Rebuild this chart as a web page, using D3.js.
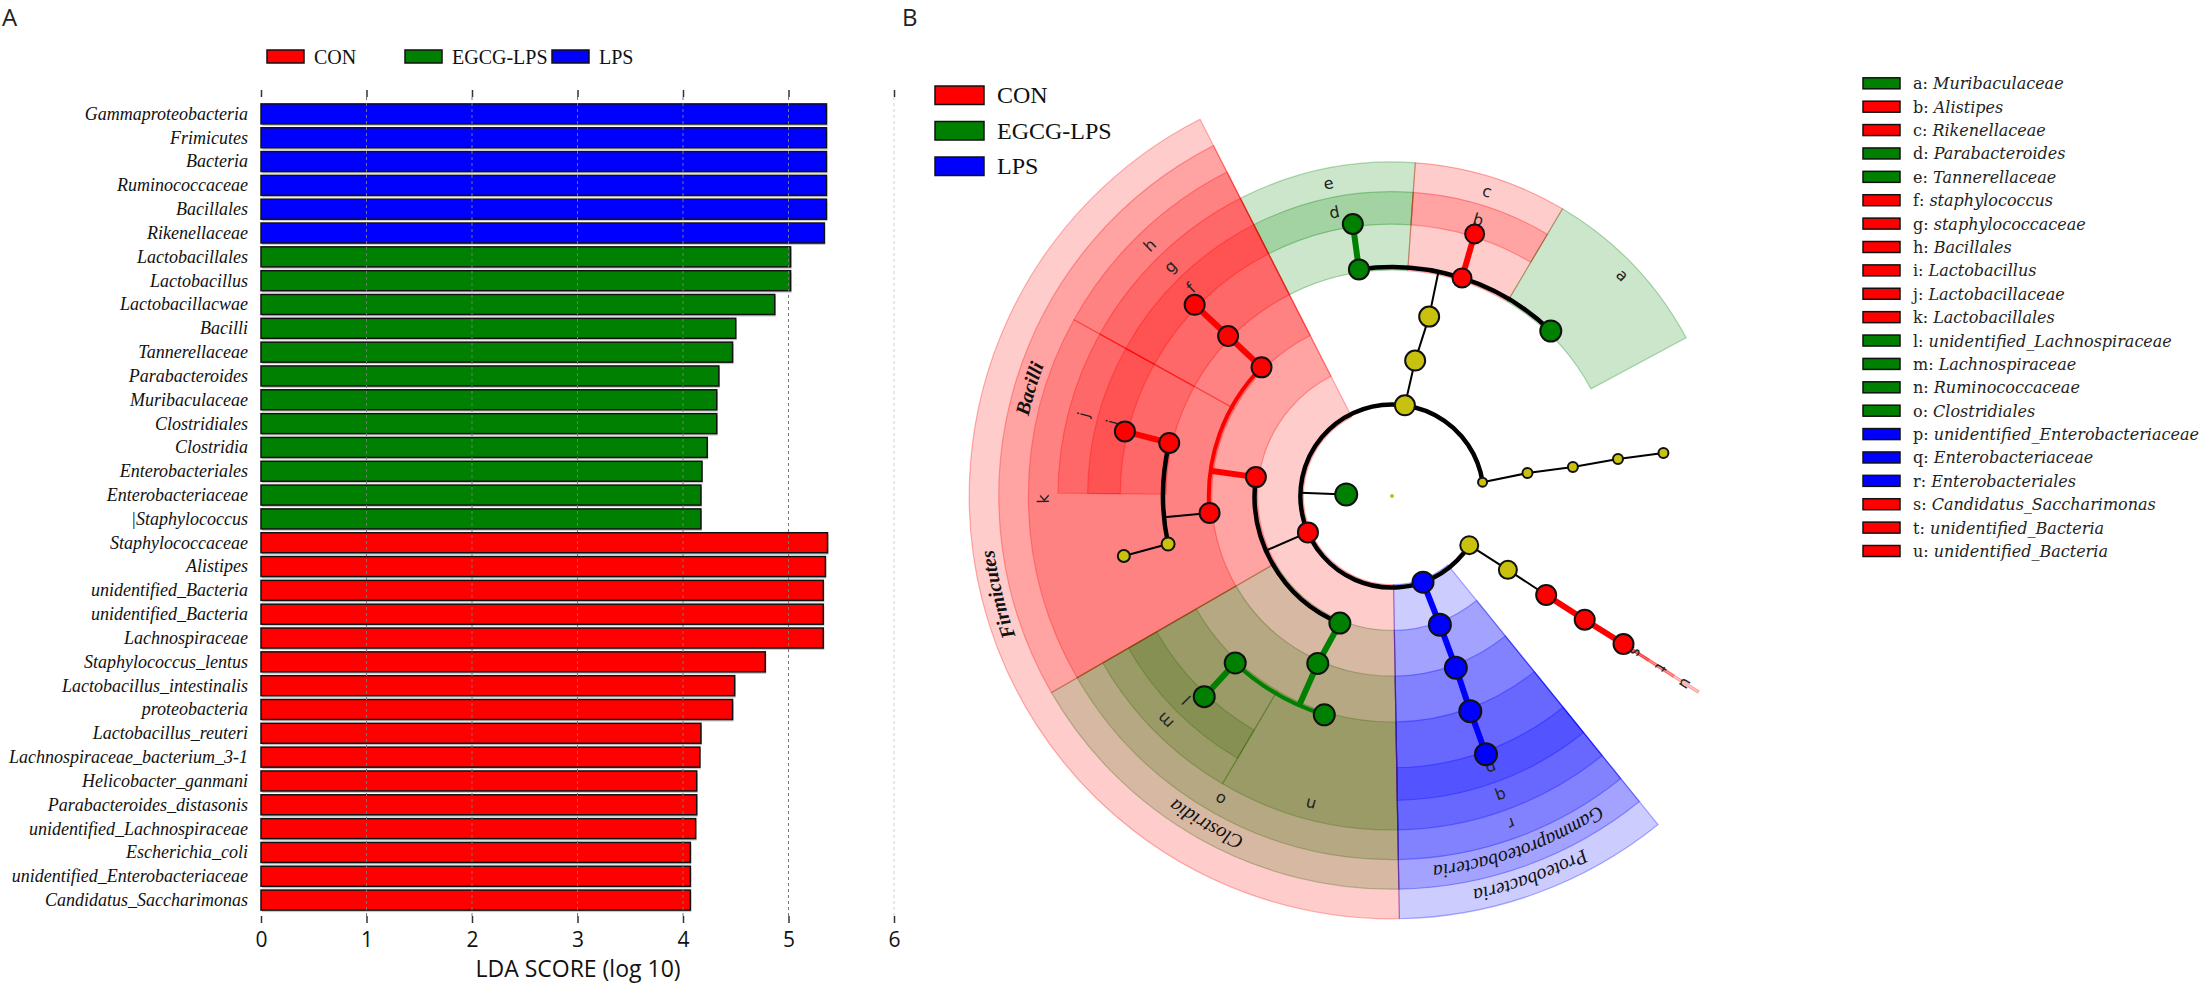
<!DOCTYPE html>
<html>
<head>
<meta charset="utf-8">
<script src="https://cdn.jsdelivr.net/npm/d3@7"></script>
<style>
  body { margin: 0; background: #fff; }
  svg { display: block; }
</style>
</head>
<body>
<svg id="fig" width="2205" height="988"></svg>
<script>
// ---------- data: panel A (LDA bars)
const groupNames = ["CON", "EGCG-LPS", "LPS"];
const groupColors = ["#ff0000", "#008000", "#0000ff"];
const nsColor = "#c8c20f";

const barTaxa = [
  "Gammaproteobacteria", "Frimicutes", "Bacteria", "Ruminococcaceae", "Bacillales", "Rikenellaceae",
  "Lactobacillales", "Lactobacillus", "Lactobacillacwae", "Bacilli", "Tannerellaceae", "Parabacteroides",
  "Muribaculaceae", "Clostridiales", "Clostridia", "Enterobacteriales", "Enterobacteriaceae", "|Staphylococcus",
  "Staphylococcaceae", "Alistipes", "unidentified_Bacteria", "unidentified_Bacteria", "Lachnospiraceae",
  "Staphylococcus_lentus", "Lactobacillus_intestinalis", "proteobacteria", "Lactobacillus_reuteri",
  "Lachnospiraceae_bacterium_3-1", "Helicobacter_ganmani", "Parabacteroides_distasonis",
  "unidentified_Lachnospiraceae", "Escherichia_coli", "unidentified_Enterobacteriaceae", "Candidatus_Saccharimonas"
];
const barGroup = [
  "LPS", "LPS", "LPS", "LPS", "LPS", "LPS",
  "EGCG-LPS", "EGCG-LPS", "EGCG-LPS", "EGCG-LPS", "EGCG-LPS", "EGCG-LPS",
  "EGCG-LPS", "EGCG-LPS", "EGCG-LPS", "EGCG-LPS", "EGCG-LPS", "EGCG-LPS",
  "CON", "CON", "CON", "CON", "CON", "CON", "CON", "CON",
  "CON", "CON", "CON", "CON", "CON", "CON", "CON", "CON"
];
const barLda = [
  5.36, 5.36, 5.36, 5.36, 5.36, 5.34,
  5.02, 5.02, 4.87, 4.50, 4.47, 4.34, 4.32, 4.32, 4.23, 4.18, 4.17, 4.17,
  5.37, 5.35, 5.33, 5.33, 5.33, 4.78, 4.49, 4.47, 4.17, 4.16, 4.13, 4.13, 4.12, 4.07, 4.07, 4.07
];
const ldaTicks = [0, 1, 2, 3, 4, 5, 6];

// ---------- data: panel B (cladogram)
// [id, parent, level, angle (deg, clockwise from top), group, node radius]
const cladeNodes = [
  ["root", null, 0, 0, "ns", 2],
  ["Bacteria", "root", 1, 272, "EGCG-LPS", 11],
  ["Bacteroidetes", "Bacteria", 2, 368.1, "ns", 10],
  ["Bacteroidia", "Bacteroidetes", 3, 369.7, "ns", 10],
  ["Bacteroidales", "Bacteroidia", 4, 371.7, "ns", 10],
  ["e", "Bacteroidales", 5, 351.7, "EGCG-LPS", 10],
  ["d", "e", 6, 351.8, "EGCG-LPS", 10],
  ["c", "Bacteroidales", 5, 377.8, "CON", 9.5],
  ["b", "c", 6, 377.5, "CON", 9.5],
  ["a", "Bacteroidales", 5, 403.9, "EGCG-LPS", 10.5],
  ["ph81", "Bacteria", 2, 441.3, "ns", 4.5],
  ["cl81", "ph81", 3, 440.4, "ns", 5],
  ["or81", "cl81", 4, 440.9, "ns", 5],
  ["fa81", "or81", 5, 440.7, "ns", 5],
  ["ge81", "fa81", 6, 441.0, "ns", 5],
  ["Patescibacteria", "Bacteria", 2, 122.5, "ns", 9],
  ["Saccharimonadia", "Patescibacteria", 3, 122.5, "ns", 9],
  ["u", "Saccharimonadia", 4, 122.7, "CON", 10],
  ["t", "u", 5, 122.7, "CON", 10],
  ["s", "t", 6, 122.6, "CON", 10],
  ["Proteobacteria", "Bacteria", 2, 160.2, "LPS", 10.5],
  ["Gammaproteobacteria", "Proteobacteria", 3, 159.6, "LPS", 11],
  ["r", "Gammaproteobacteria", 4, 159.6, "LPS", 11],
  ["q", "r", 5, 160, "LPS", 11],
  ["p", "q", 6, 160, "LPS", 11],
  ["Firmicutes", "Bacteria", 2, 246.6, "CON", 10],
  ["Clostridia", "Firmicutes", 3, 202.3, "EGCG-LPS", 10.5],
  ["o", "Clostridia", 4, 203.9, "EGCG-LPS", 10.5],
  ["n", "o", 5, 197.2, "EGCG-LPS", 10.5],
  ["m", "o", 5, 223.2, "EGCG-LPS", 10.5],
  ["l", "m", 6, 223.1, "EGCG-LPS", 10.5],
  ["Bacilli", "Firmicutes", 3, 277.9, "CON", 10],
  ["k", "Bacilli", 4, 264.7, "CON", 10],
  ["kFam", "k", 5, 257.9, "ns", 6.5],
  ["kGen", "kFam", 6, 257.4, "ns", 6],
  ["j", "k", 5, 283.4, "CON", 10],
  ["i", "j", 6, 283.6, "CON", 10],
  ["h", "Bacilli", 4, 314.6, "CON", 10],
  ["g", "h", 5, 314.3, "CON", 10],
  ["f", "g", 6, 314.1, "CON", 10]
];

// [label, group, level, start angle, end angle]
const cladeSectors = [
  ["Firmicutes", "CON", 2, 179, 333],
  ["Bacilli", "CON", 3, 240, 333],
  ["h", "CON", 4, 299, 333],
  ["g", "CON", 5, 299, 333],
  ["f", "CON", 6, 299, 333],
  ["k", "CON", 4, 240, 299],
  ["j", "CON", 5, 270.5, 299],
  ["i", "CON", 6, 270.5, 299],
  ["Clostridia", "EGCG-LPS", 3, 179, 240],
  ["o", "EGCG-LPS", 4, 179, 240],
  ["n", "EGCG-LPS", 5, 179, 210.5],
  ["m", "EGCG-LPS", 5, 210.5, 240],
  ["l", "EGCG-LPS", 6, 210.5, 240],
  ["Proteobacteria", "LPS", 2, 141, 179],
  ["Gammaproteobacteria", "LPS", 3, 141, 179],
  ["r", "LPS", 4, 141, 179],
  ["q", "LPS", 5, 141, 179],
  ["p", "LPS", 6, 141, 179],
  ["e", "EGCG-LPS", 5, 333, 364],
  ["d", "EGCG-LPS", 6, 333, 364],
  ["c", "CON", 5, 364, 390.7],
  ["b", "CON", 6, 364, 390.7],
  ["a", "EGCG-LPS", 5, 390.7, 421.7],
  ["u", "CON", 4, 122.4, 122.8],
  ["t", "CON", 5, 122.4, 122.8],
  ["s", "CON", 6, 122.4, 122.8]
];
const boldNames = ["Firmicutes", "Bacilli"];

const keyLetters = ["a", "b", "c", "d", "e", "f", "g", "h", "i", "j", "k", "l", "m", "n", "o", "p", "q", "r", "s", "t", "u"];
const keyNames = [
  "Muribaculaceae", "Alistipes", "Rikenellaceae", "Parabacteroides", "Tannerellaceae", "staphylococcus",
  "staphylococcaceae", "Bacillales", "Lactobacillus", "Lactobacillaceae", "Lactobacillales",
  "unidentified_Lachnospiraceae", "Lachnospiraceae", "Ruminococcaceae", "Clostridiales",
  "unidentified_Enterobacteriaceae", "Enterobacteriaceae", "Enterobacteriales", "Candidatus_Saccharimonas",
  "unidentified_Bacteria", "unidentified_Bacteria"
];
const keyGroups = [
  "EGCG-LPS", "CON", "CON", "EGCG-LPS", "EGCG-LPS", "CON", "CON", "CON", "CON", "CON", "CON",
  "EGCG-LPS", "EGCG-LPS", "EGCG-LPS", "EGCG-LPS", "LPS", "LPS", "LPS", "CON", "CON", "CON"
];

// ---------- setup
const svg = d3.select("#fig");
const color = d3.scaleOrdinal().domain(groupNames.concat(["ns"])).range(groupColors.concat([nsColor]));
const SERIF = "'Liberation Serif', 'Times New Roman', serif";
const SANS = "'Open Sans', 'DejaVu Sans', sans-serif";

svg.append("text").attr("x", 2).attr("y", 26).attr("font-family", SANS).attr("font-size", 24)
  .attr("fill", "#222").text("A");
svg.append("text").attr("x", 902).attr("y", 26).attr("font-family", SANS).attr("font-size", 24)
  .attr("fill", "#222").text("B");

// =============== Panel A
const x = d3.scaleLinear().domain([0, 6]).range([261, 894]);
const y = d3.scaleBand().domain(d3.range(barTaxa.length)).range([102, 912])
  .paddingInner(0.16).paddingOuter(0.08);

const gA = svg.append("g");

// --- legend on top
const legX = [267, 405, 552];
groupNames.forEach((name, i) => {
  gA.append("rect").attr("x", legX[i]).attr("y", 50).attr("width", 37).attr("height", 13)
    .attr("fill", groupColors[i]).attr("stroke", "#111").attr("stroke-width", 1.5);
  gA.append("text").attr("x", legX[i] + 47).attr("y", 63.5)
    .attr("font-family", SERIF).attr("font-size", 20).attr("fill", "#111").text(name);
});

// --- bars
const barIdx = d3.range(barTaxa.length);
gA.selectAll(".shadow").data(barIdx).enter().append("rect")
  .attr("x", x(0) + 1).attr("y", i => y(i) + 2)
  .attr("width", i => x(barLda[i]) - x(0)).attr("height", y.bandwidth())
  .attr("fill", "#c9c9c9");

gA.selectAll(".bar").data(barIdx).enter().append("rect")
  .attr("class", "bar")
  .attr("x", x(0)).attr("y", i => y(i))
  .attr("width", i => x(barLda[i]) - x(0)).attr("height", y.bandwidth())
  .attr("fill", i => color(barGroup[i]))
  .attr("stroke", "#111").attr("stroke-width", 1.5);

// --- grid (dashed) on top of bars
gA.selectAll(".grid").data(ldaTicks.filter(t => t > 0)).enter().append("line")
  .attr("x1", d => x(d)).attr("x2", d => x(d))
  .attr("y1", 97).attr("y2", 916)
  .attr("stroke", d => d === 6 ? "#d0d0d0" : "#777")
  .attr("stroke-width", 1)
  .attr("stroke-dasharray", "3,3");

// --- ticks top and bottom
const xTop = d3.axisTop(x).tickValues(ldaTicks).tickSize(7).tickFormat("");
const xBot = d3.axisBottom(x).tickValues(ldaTicks).tickSize(7).tickPadding(9).tickFormat(d3.format("d"));
gA.append("g").attr("transform", "translate(0,97)").call(xTop)
  .call(g => g.select(".domain").remove())
  .call(g => g.selectAll("line").attr("stroke", "#333").attr("stroke-width", 1.5));
gA.append("g").attr("transform", "translate(0,916)").call(xBot)
  .call(g => g.select(".domain").remove())
  .call(g => g.selectAll("line").attr("stroke", "#333").attr("stroke-width", 1.5))
  .call(g => g.selectAll("text").attr("font-family", SANS).attr("font-size", 21).attr("fill", "#111"));

gA.append("text").attr("x", 578).attr("y", 977).attr("text-anchor", "middle")
  .attr("font-family", SANS).attr("font-size", 23).attr("fill", "#111").text("LDA SCORE (log 10)");

// --- taxon labels
gA.selectAll(".tlabel").data(barIdx).enter().append("text")
  .attr("x", 248).attr("y", i => y(i) + y.bandwidth() / 2)
  .attr("dy", "0.33em").attr("text-anchor", "end")
  .attr("font-family", SERIF).attr("font-style", "italic").attr("font-size", 18)
  .attr("fill", "#111").text(i => barTaxa[i]);

// =============== Panel B
const cx = 1392, cy = 496;
const gB = svg.append("g").attr("transform", `translate(${cx},${cy})`);
const rad = d3.scaleLinear().domain([0, 360]).range([0, 2 * Math.PI]);
const levelR = d3.scaleLinear().domain([0, 6]).range([0, 274.8]);
const bandOuter = d3.scaleLinear().domain([6, 2]).range([304.4, 422.8]);
const pt = (angle, r) => d3.pointRadial(rad(angle), r);

const nodes = cladeNodes.map(([id, parent, level, angle, group, size]) => ({ id, parent, level, angle, group, size }));
nodes.forEach(n => n.children = nodes.filter(c => c.parent === n.id));

// deepest clades painted first, phyla last (as the reference blends them)
const sectors = cladeSectors.map(([label, group, level, a0, a1]) => ({ label, group, level, a0, a1 }))
  .sort((p, q) => q.level - p.level);

// --- clade shading
const sectorArc = d3.arc()
  .innerRadius(d => levelR(d.level) - 3)
  .outerRadius(d => bandOuter(d.level))
  .startAngle(d => rad(d.a0))
  .endAngle(d => rad(d.a1));

gB.selectAll(".sector").data(sectors).enter().append("path")
  .attr("d", sectorArc)
  .attr("fill", d => color(d.group)).attr("fill-opacity", 0.2)
  .attr("stroke", d => color(d.group)).attr("stroke-opacity", 0.3).attr("stroke-width", 1.2);

// --- clade labels
const labelR = d => bandOuter(d.level) - 14.8;
const names = sectors.filter(d => d.label.length > 1);
const letters = sectors.filter(d => d.label.length === 1);

const defs = svg.append("defs");
names.forEach((d, i) => {
  // only as long as the label needs, centred on the clade
  const mid = (d.a0 + d.a1) / 2, half = Math.min((d.a1 - d.a0) / 2, 16);
  const p = d3.path();
  p.arc(0, 0, labelR(d), rad(mid - half) - Math.PI / 2, rad(mid + half) - Math.PI / 2);
  defs.append("path").attr("id", "lp" + i).attr("d", p.toString());
});
gB.selectAll(".cname").data(names).enter().append("text")
  .attr("font-family", SERIF).attr("font-style", "italic").attr("font-size", 20)
  .attr("font-weight", d => boldNames.includes(d.label) ? "bold" : "normal")
  .attr("fill", "#111").attr("dy", "0.32em")
  .append("textPath")
  .attr("href", (d, i) => "#lp" + i)
  .attr("startOffset", "50%").attr("text-anchor", "middle")
  .text(d => d.label);

gB.selectAll(".cletter").data(letters).enter().append("text")
  .attr("transform", d => {
    const a = (d.a0 + d.a1) / 2;
    const [px, py] = pt(a, labelR(d));
    return `translate(${px},${py}) rotate(${a})`;
  })
  .attr("text-anchor", "middle").attr("dy", "0.35em")
  .attr("font-family", "'DejaVu Sans', sans-serif").attr("font-size", 16).attr("fill", "#222")
  .text(d => d.label);

// --- tree branches
const branches = [];
nodes.forEach(p => {
  const kids = p.children;
  if (!kids.length || p.level === 0) return;
  const same = p.group !== "ns" && kids.every(k => k.group === p.group);
  const col = same ? color(p.group) : "#000";
  const rc = levelR(kids[0].level);
  if (kids.length === 1) {
    const k = kids[0];
    branches.push({ d: d3.line()([pt(p.angle, levelR(p.level)), pt(k.angle, rc)]), col, w: same ? 6 : 2 });
  } else {
    branches.push({ d: d3.line()([pt(p.angle, levelR(p.level)), pt(p.angle, rc)]), col, w: same ? 6 : 2 });
    const ap = d3.path();
    ap.arc(0, 0, rc, rad(d3.min(kids, k => k.angle)) - Math.PI / 2, rad(d3.max(kids, k => k.angle)) - Math.PI / 2);
    branches.push({ d: ap.toString(), col, w: same ? 4 : 4.5 });
  }
});
gB.selectAll(".branch").data(branches).enter().append("path")
  .attr("d", d => d.d).attr("fill", "none")
  .attr("stroke", d => d.col).attr("stroke-width", d => d.w);

// --- nodes
gB.selectAll(".node").data(nodes).enter().append("circle")
  .attr("cx", d => pt(d.angle, levelR(d.level))[0])
  .attr("cy", d => pt(d.angle, levelR(d.level))[1])
  .attr("r", d => d.size)
  .attr("fill", d => color(d.group))
  .attr("stroke", d => d.level === 0 ? "none" : "#111")
  .attr("stroke-width", 2);

// --- group legend (panel B, top-left)
groupNames.forEach((name, i) => {
  svg.append("rect").attr("x", 935).attr("y", 86 + i * 35.5).attr("width", 49).attr("height", 18.5)
    .attr("fill", groupColors[i]).attr("stroke", "#111").attr("stroke-width", 1.5);
  svg.append("text").attr("x", 997).attr("y", 103 + i * 35.5)
    .attr("font-family", SERIF).attr("font-size", 24).attr("fill", "#111").text(name);
});

// --- letter key (right)
const keyY = d3.scaleLinear().domain([0, keyLetters.length - 1]).range([83.3, 551]);
const key = svg.append("g");
keyLetters.forEach((L, i) => {
  key.append("rect").attr("x", 1863).attr("y", keyY(i) - 5.5).attr("width", 37).attr("height", 11)
    .attr("fill", color(keyGroups[i])).attr("stroke", "#111").attr("stroke-width", 1.5);
  const t = key.append("text").attr("x", 1913).attr("y", keyY(i) + 6)
    .attr("font-family", "'DejaVu Serif', serif").attr("font-size", 16).attr("fill", "#222");
  t.append("tspan").text(L + ": ");
  t.append("tspan").attr("font-style", "italic").text(keyNames[i]);
});
</script>
</body>
</html>
